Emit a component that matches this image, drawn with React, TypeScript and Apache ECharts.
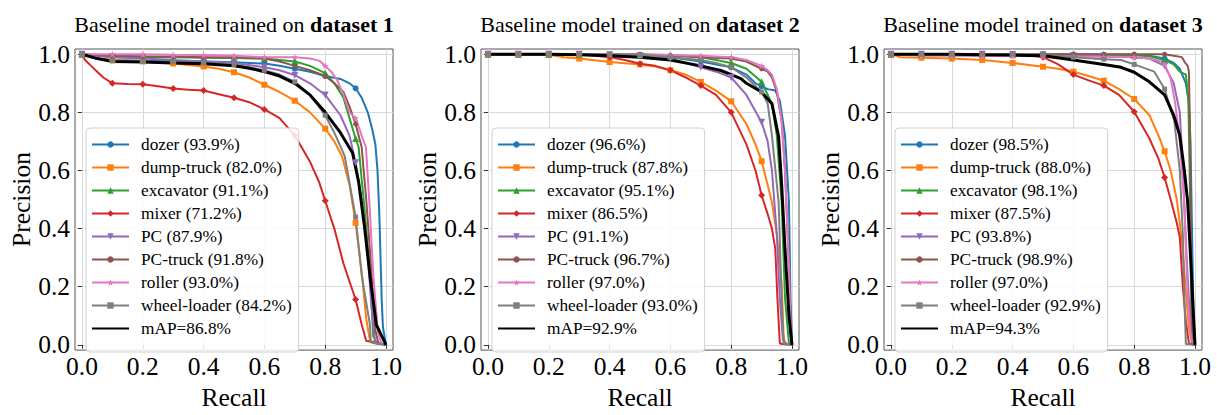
import React, { useEffect, useRef } from 'react';
import * as echarts from 'echarts';

const FONT = 'Liberation Serif';
const STAR = 'path://M0,-5L1.2,-1.6L4.8,-1.5L1.9,0.6L2.9,4L0,2L-2.9,4L-1.9,0.6L-4.8,-1.5L-1.2,-1.6Z';

const CLASSES = ['dozer', 'dump-truck', 'excavator', 'mixer', 'PC', 'PC-truck', 'roller', 'wheel-loader'];
const COLORS = ['#1f77b4', '#ff7f0e', '#2ca02c', '#d62728', '#9467bd', '#8c564b', '#e377c2', '#7f7f7f'];
const SYMBOLS = ['circle', 'rect', 'triangle', 'diamond', 'triangle', 'circle', STAR, 'rect'];
const SYMBOL_SIZES = [6, 6, 7, 7, 7, 5, 7, 5];
const SYMBOL_ROTATE = [0, 0, 0, 0, 180, 0, 0, 0];

const AP_1 = [93.9, 82.0, 91.1, 71.2, 87.9, 91.8, 93.0, 84.2];
const AP_2 = [96.6, 87.8, 95.1, 86.5, 91.1, 96.7, 97.0, 93.0];
const AP_3 = [98.5, 88.0, 98.1, 87.5, 93.8, 98.9, 97.0, 92.9];
const MAP = [86.8, 92.9, 94.3];
const TITLES = ['dataset 1', 'dataset 2', 'dataset 3'];
const TICKS = [0, 0.2, 0.4, 0.6, 0.8, 1.0];

// ---------- dataset 1 : [recall, precision] ----------
const D1_DOZER = [[0,1],[0.05,0.985],[0.1,0.98],[0.2,0.978],[0.3,0.977],[0.4,0.975],[0.5,0.972],[0.6,0.968],[0.65,0.96],[0.7,0.95],[0.75,0.94],[0.8,0.925],[0.85,0.915],[0.88,0.9],[0.9,0.883],[0.92,0.85],[0.94,0.8],[0.955,0.74],[0.965,0.69],[0.972,0.6],[0.978,0.45],[0.982,0.3],[0.986,0.15],[0.99,0.06],[1,0]];
const D1_DUMP = [[0,1],[0.05,0.985],[0.1,0.98],[0.2,0.975],[0.3,0.968],[0.4,0.958],[0.45,0.95],[0.5,0.938],[0.55,0.92],[0.6,0.895],[0.65,0.87],[0.7,0.84],[0.75,0.8],[0.8,0.744],[0.83,0.7],[0.855,0.65],[0.88,0.55],[0.9,0.42],[0.92,0.25],[0.935,0.09],[0.948,0.01],[0.965,0.005],[1,0]];
const D1_EXC = [[0,1],[0.1,0.99],[0.2,0.99],[0.3,0.99],[0.4,0.988],[0.5,0.987],[0.6,0.985],[0.65,0.98],[0.7,0.975],[0.75,0.96],[0.8,0.935],[0.83,0.9],[0.86,0.85],[0.88,0.78],[0.9,0.71],[0.91,0.68],[0.93,0.46],[0.948,0.24],[0.958,0.03],[0.97,0.005],[1,0]];
const D1_MIXER = [[0,1],[0.01,0.98],[0.03,0.96],[0.05,0.94],[0.07,0.92],[0.1,0.9],[0.15,0.898],[0.2,0.897],[0.25,0.89],[0.3,0.882],[0.35,0.878],[0.4,0.875],[0.45,0.862],[0.5,0.85],[0.55,0.835],[0.6,0.81],[0.65,0.78],[0.7,0.72],[0.75,0.63],[0.78,0.56],[0.8,0.496],[0.83,0.4],[0.86,0.28],[0.9,0.156],[0.92,0.07],[0.935,0.013],[0.964,0.01],[1,0]];
const D1_PC = [[0,1],[0.1,0.99],[0.2,0.985],[0.3,0.98],[0.4,0.975],[0.5,0.97],[0.6,0.955],[0.65,0.945],[0.7,0.928],[0.75,0.9],[0.8,0.86],[0.85,0.79],[0.88,0.72],[0.9,0.627],[0.92,0.5],[0.937,0.35],[0.953,0.12],[0.964,0.01],[1,0]];
const D1_PCT = [[0,1],[0.1,0.995],[0.2,0.993],[0.3,0.992],[0.4,0.99],[0.5,0.99],[0.6,0.985],[0.65,0.975],[0.7,0.96],[0.75,0.945],[0.8,0.925],[0.83,0.9],[0.86,0.87],[0.88,0.82],[0.9,0.76],[0.92,0.68],[0.935,0.5],[0.953,0.24],[0.965,0.05],[0.975,0.005],[1,0]];
const D1_ROLLER = [[0,1],[0.1,1],[0.2,1],[0.3,0.998],[0.4,0.997],[0.5,0.995],[0.6,0.99],[0.7,0.99],[0.75,0.985],[0.78,0.978],[0.8,0.96],[0.82,0.94],[0.84,0.91],[0.86,0.86],[0.88,0.8],[0.9,0.78],[0.92,0.72],[0.934,0.68],[0.947,0.46],[0.958,0.24],[0.974,0.04],[0.985,0.005],[1,0]];
const D1_WHEEL = [[0,1],[0.05,0.985],[0.1,0.977],[0.2,0.975],[0.3,0.974],[0.4,0.97],[0.5,0.965],[0.6,0.945],[0.65,0.93],[0.7,0.905],[0.75,0.86],[0.8,0.79],[0.83,0.73],[0.864,0.65],[0.9,0.44],[0.92,0.24],[0.947,0.07],[0.95,0.01],[0.97,0.005],[1,0]];
const D1_MAP = [[0,1],[0.05,0.985],[0.1,0.975],[0.2,0.973],[0.3,0.97],[0.4,0.967],[0.5,0.96],[0.55,0.952],[0.6,0.94],[0.65,0.925],[0.7,0.9],[0.75,0.86],[0.8,0.8],[0.85,0.73],[0.89,0.66],[0.91,0.56],[0.93,0.4],[0.947,0.24],[0.968,0.07],[1,0]];

// ---------- dataset 2 ----------
const D2_DOZER = [[0,1],[0.1,1],[0.2,1],[0.3,0.999],[0.4,0.998],[0.5,0.997],[0.6,0.99],[0.7,0.975],[0.75,0.965],[0.8,0.955],[0.85,0.93],[0.88,0.9],[0.9,0.89],[0.92,0.88],[0.945,0.875],[0.96,0.84],[0.977,0.72],[0.99,0.49],[0.995,0.16],[1,0]];
const D2_DUMP = [[0,1],[0.1,1],[0.2,0.998],[0.25,0.99],[0.3,0.985],[0.4,0.973],[0.5,0.965],[0.55,0.958],[0.6,0.945],[0.65,0.93],[0.7,0.905],[0.75,0.875],[0.8,0.838],[0.85,0.76],[0.88,0.69],[0.9,0.632],[0.92,0.55],[0.934,0.49],[0.95,0.38],[0.966,0.21],[0.972,0.04],[0.976,0.003],[0.982,0.002],[1,0]];
const D2_EXC = [[0,1],[0.1,1],[0.2,1],[0.3,1],[0.4,0.999],[0.5,0.998],[0.6,0.995],[0.7,0.99],[0.75,0.98],[0.8,0.97],[0.85,0.95],[0.9,0.905],[0.934,0.83],[0.95,0.72],[0.966,0.49],[0.977,0.16],[0.99,0.005],[1,0]];
const D2_MIXER = [[0,1],[0.1,1],[0.2,1],[0.3,1],[0.4,0.99],[0.45,0.98],[0.5,0.967],[0.55,0.96],[0.6,0.945],[0.65,0.92],[0.7,0.892],[0.75,0.86],[0.8,0.8],[0.85,0.69],[0.88,0.6],[0.9,0.515],[0.92,0.45],[0.934,0.4],[0.945,0.33],[0.952,0.16],[0.96,0.005],[0.97,0.003],[1,0]];
const D2_PC = [[0,1],[0.1,1],[0.2,1],[0.3,1],[0.4,0.998],[0.5,0.995],[0.6,0.985],[0.7,0.955],[0.75,0.94],[0.8,0.92],[0.85,0.86],[0.9,0.766],[0.92,0.7],[0.934,0.6],[0.95,0.38],[0.96,0.16],[0.97,0.02],[0.98,0.005],[1,0]];
const D2_PCT = [[0,1],[0.1,1],[0.2,1],[0.3,1],[0.4,1],[0.5,1],[0.6,0.997],[0.7,0.99],[0.8,0.985],[0.85,0.975],[0.9,0.95],[0.92,0.94],[0.934,0.92],[0.95,0.87],[0.966,0.77],[0.977,0.6],[0.99,0.27],[0.996,0.05],[1,0]];
const D2_ROLLER = [[0,1],[0.1,1],[0.2,1],[0.3,1],[0.4,1],[0.5,0.998],[0.6,0.997],[0.7,0.995],[0.8,0.99],[0.85,0.98],[0.9,0.96],[0.92,0.945],[0.934,0.93],[0.95,0.88],[0.966,0.77],[0.977,0.6],[0.99,0.27],[0.996,0.03],[1,0]];
const D2_WHEEL = [[0,1],[0.1,1],[0.2,1],[0.3,1],[0.4,1],[0.5,0.998],[0.6,0.99],[0.7,0.98],[0.75,0.97],[0.8,0.955],[0.85,0.92],[0.9,0.87],[0.92,0.83],[0.934,0.72],[0.956,0.49],[0.966,0.16],[0.972,0.005],[0.985,0.003],[1,0]];
const D2_MAP = [[0,1],[0.1,1],[0.2,1],[0.3,0.998],[0.4,0.995],[0.5,0.99],[0.6,0.98],[0.7,0.96],[0.766,0.944],[0.8,0.93],[0.832,0.916],[0.85,0.9],[0.9,0.87],[0.934,0.83],[0.956,0.716],[0.966,0.55],[0.977,0.33],[0.99,0.1],[1,0]];

// ---------- dataset 3 ----------
const D3_DOZER = [[0,1],[0.1,1],[0.2,1],[0.3,1],[0.4,1],[0.5,0.999],[0.6,0.999],[0.7,0.998],[0.8,0.998],[0.85,0.995],[0.9,0.985],[0.93,0.97],[0.95,0.95],[0.97,0.9],[0.98,0.83],[0.985,0.7],[0.99,0.4],[0.995,0.1],[1,0]];
const D3_DUMP = [[0,1],[0.03,0.99],[0.1,0.988],[0.2,0.985],[0.3,0.98],[0.4,0.97],[0.5,0.957],[0.55,0.95],[0.6,0.94],[0.65,0.925],[0.7,0.909],[0.75,0.88],[0.8,0.846],[0.85,0.79],[0.88,0.72],[0.9,0.666],[0.92,0.6],[0.94,0.5],[0.95,0.42],[0.96,0.32],[0.97,0.18],[0.98,0.06],[0.99,0.005],[1,0]];
const D3_EXC = [[0,1],[0.1,1],[0.2,1],[0.3,1],[0.4,1],[0.5,0.999],[0.6,0.999],[0.7,0.998],[0.8,0.997],[0.85,0.993],[0.9,0.98],[0.93,0.965],[0.95,0.94],[0.97,0.93],[0.978,0.85],[0.984,0.5],[0.988,0.1],[0.99,0.01],[1,0]];
const D3_MIXER = [[0,1],[0.1,1],[0.2,1],[0.3,1],[0.4,1],[0.45,0.998],[0.5,0.99],[0.55,0.965],[0.6,0.93],[0.65,0.91],[0.7,0.892],[0.75,0.86],[0.8,0.802],[0.85,0.71],[0.88,0.64],[0.9,0.576],[0.92,0.5],[0.94,0.42],[0.95,0.37],[0.96,0.2],[0.97,0.08],[0.98,0.005],[1,0]];
const D3_PC = [[0,1],[0.1,1],[0.2,1],[0.3,1],[0.4,0.999],[0.5,0.998],[0.6,0.995],[0.7,0.993],[0.8,0.99],[0.85,0.985],[0.9,0.96],[0.93,0.9],[0.95,0.8],[0.96,0.6],[0.97,0.35],[0.98,0.15],[0.99,0.02],[1,0]];
const D3_PCT = [[0,1],[0.1,1],[0.2,1],[0.3,1],[0.4,1],[0.5,1],[0.6,1],[0.7,1],[0.8,1],[0.9,1],[0.93,0.995],[0.957,0.99],[0.968,0.97],[0.976,0.96],[0.98,0.94],[0.984,0.7],[0.987,0.3],[0.99,0.05],[1,0]];
const D3_ROLLER = [[0,1],[0.1,0.995],[0.2,0.995],[0.3,0.994],[0.4,0.994],[0.5,0.993],[0.6,0.992],[0.7,0.991],[0.8,0.99],[0.85,0.985],[0.89,0.975],[0.9,0.965],[0.92,0.916],[0.935,0.83],[0.95,0.7],[0.965,0.49],[0.976,0.16],[0.987,0.02],[1,0]];
const D3_WHEEL = [[0,1],[0.1,1],[0.2,1],[0.3,1],[0.4,1],[0.5,0.998],[0.6,0.99],[0.7,0.983],[0.757,0.98],[0.8,0.965],[0.866,0.94],[0.9,0.88],[0.932,0.77],[0.95,0.6],[0.96,0.38],[0.965,0.16],[0.97,0.003],[0.98,0.002],[1,0]];
const D3_MAP = [[0,1],[0.1,1],[0.2,1],[0.3,0.998],[0.4,0.997],[0.5,0.995],[0.6,0.98],[0.7,0.965],[0.757,0.955],[0.8,0.938],[0.85,0.905],[0.9,0.86],[0.93,0.79],[0.95,0.72],[0.965,0.6],[0.976,0.49],[0.987,0.27],[0.995,0.1],[1,0]];

const PANEL_CURVES = [
  [D1_DOZER, D1_DUMP, D1_EXC, D1_MIXER, D1_PC, D1_PCT, D1_ROLLER, D1_WHEEL],
  [D2_DOZER, D2_DUMP, D2_EXC, D2_MIXER, D2_PC, D2_PCT, D2_ROLLER, D2_WHEEL],
  [D3_DOZER, D3_DUMP, D3_EXC, D3_MIXER, D3_PC, D3_PCT, D3_ROLLER, D3_WHEEL],
];
const PANEL_MAP = [D1_MAP, D2_MAP, D3_MAP];
const PANEL_AP = [AP_1, AP_2, AP_3];

// layout
const GRID_LEFT = [75, 481, 884];
const GRID_TOP = 49;
const GRID_W = 318;
const GRID_H = 310;

const isMarker = (r: number) => r < 0.999 && Math.abs(r * 10 - Math.round(r * 10)) < 1e-6;

function buildOption() {
  const grids: any[] = [];
  const xAxes: any[] = [];
  const yAxes: any[] = [];
  const legends: any[] = [];
  const series: any[] = [];
  const graphics: any[] = [];

  for (let k = 0; k < 3; k++) {
    grids.push({
      left: GRID_LEFT[k], top: GRID_TOP, width: GRID_W, height: GRID_H,
      show: true, borderColor: '#555', borderWidth: 1, backgroundColor: '#fff',
    });
    const axisCommon = {
      type: 'value',
      gridIndex: k,
      axisLine: { show: false },
      axisTick: { show: true, customValues: TICKS, length: 4, lineStyle: { color: '#333', width: 1 } },
      splitLine: { show: true, lineStyle: { color: '#d9d9d9', width: 1 } },
      nameLocation: 'middle',
      nameTextStyle: { fontFamily: FONT, fontSize: 25.5, color: '#000' },
    };
    xAxes.push({
      ...axisCommon,
      min: -0.023, max: 1.023,
      name: 'Recall', nameGap: 28,
      axisLabel: { customValues: TICKS, formatter: (v: number) => v.toFixed(1), fontFamily: FONT, fontSize: 25.5, color: '#000', margin: 3 },
    });
    yAxes.push({
      ...axisCommon,
      min: -0.018, max: 1.018,
      name: 'Precision', nameGap: 38,
      axisLabel: { customValues: TICKS, formatter: (v: number) => v.toFixed(1), fontFamily: FONT, fontSize: 25.5, color: '#000', margin: 5 },
    });

    const legendData: any[] = [];
    CLASSES.forEach((c, j) => {
      const name = `${c} (${PANEL_AP[k][j].toFixed(1)}%)`;
      legendData.push({ name });
      series.push({
        type: 'line',
        name,
        xAxisIndex: k,
        yAxisIndex: k,
        symbol: SYMBOLS[j],
        symbolSize: SYMBOL_SIZES[j],
        symbolRotate: SYMBOL_ROTATE[j],
        showAllSymbol: true,
        color: COLORS[j],
        lineStyle: { color: COLORS[j], width: 2 },
        itemStyle: { color: COLORS[j] },
        emphasis: { disabled: true },
        data: PANEL_CURVES[k][j].map(([r, p]) => (isMarker(r) ? [r, p] : { value: [r, p], symbol: 'none' })),
      });
    });
    const mapName = `mAP=${MAP[k].toFixed(1)}%`;
    legendData.push({ name: mapName, itemStyle: { opacity: 0 } });
    series.push({
      type: 'line',
      name: mapName,
      xAxisIndex: k,
      yAxisIndex: k,
      symbol: 'none',
      color: '#000',
      lineStyle: { color: '#000', width: 3 },
      itemStyle: { color: '#000' },
      emphasis: { disabled: true },
      data: PANEL_MAP[k],
    });

    legends.push({
      orient: 'vertical',
      left: GRID_LEFT[k] + 11,
      top: 128,
      data: legendData,
      selectedMode: false,
      itemWidth: 37,
      itemHeight: 8,
      itemGap: 6,
      padding: [8, 7, 15, 5],
      backgroundColor: 'rgba(255,255,255,0.85)',
      borderColor: '#d0d0d0',
      borderWidth: 1,
      borderRadius: 4,
      formatter: (name: string) => `{t|${name}}`,
      textStyle: {
        fontFamily: FONT,
        fontSize: 17.3,
        color: '#000',
        rich: {
          t: { fontFamily: FONT, fontSize: 17.3, color: '#000', padding: [0, 0, 0, 7] },
        },
      },
    });

    graphics.push({
      type: 'text',
      x: GRID_LEFT[k] + GRID_W / 2,
      y: 13,
      style: {
        text: `{n|Baseline model trained on }{b|${TITLES[k]}}`,
        align: 'center',
        verticalAlign: 'top',
        rich: {
          n: { fontFamily: FONT, fontSize: 22, fill: '#000' },
          b: { fontFamily: FONT, fontSize: 22, fontWeight: 'bold', fill: '#000' },
        },
      },
    });
  }

  return {
    animation: false,
    backgroundColor: '#fff',
    textStyle: { fontFamily: FONT },
    grid: grids,
    xAxis: xAxes,
    yAxis: yAxes,
    legend: legends,
    series,
    graphic: graphics,
  };
}

export default function App() {
  const ref = useRef<HTMLDivElement>(null);
  useEffect(() => {
    if (!ref.current) return;
    const chart = echarts.init(ref.current, undefined, { renderer: 'svg' });
    chart.setOption(buildOption() as any);
    return () => chart.dispose();
  }, []);
  return <div ref={ref} style={{ position: 'absolute', left: 0, top: 0, width: 1217, height: 415 }} />;
}
